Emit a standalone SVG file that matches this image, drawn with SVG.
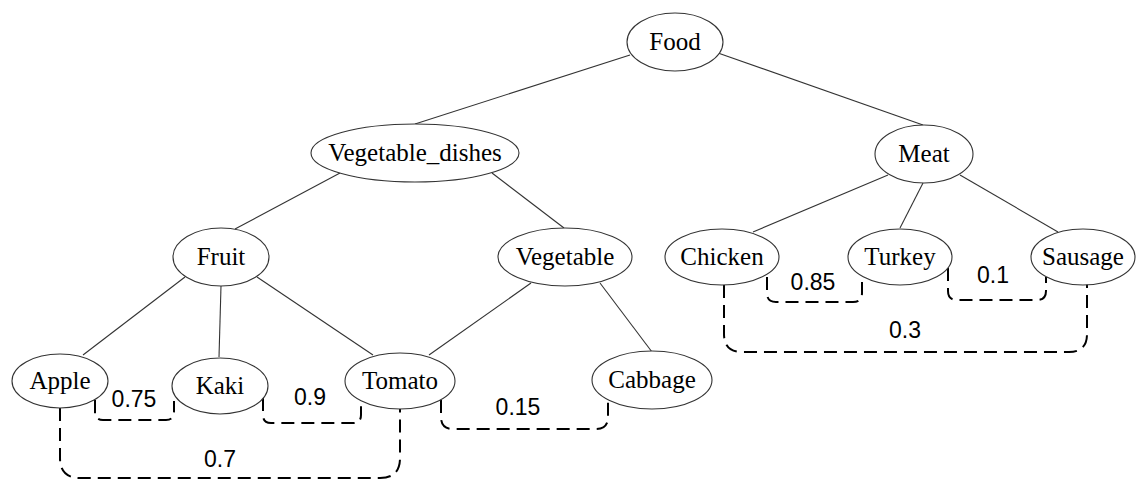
<svg xmlns="http://www.w3.org/2000/svg" width="1136" height="481" viewBox="0 0 1136 481">
<style>
.node ellipse{fill:#fff;stroke:#333;stroke-width:1.1}
.edges line{stroke:#333;stroke-width:1.1}
.sim path{fill:none;stroke:#000;stroke-width:2;stroke-dasharray:13 7}
</style>
<rect width="1136" height="481" fill="#fff"/>
<g class="edges">
<line x1="630" y1="55" x2="415" y2="124"/>
<line x1="718" y1="53" x2="923" y2="125"/>
<line x1="340" y1="173" x2="235" y2="229"/>
<line x1="492" y1="173" x2="564" y2="228"/>
<line x1="888" y1="175" x2="753" y2="232"/>
<line x1="923" y1="183" x2="900" y2="228"/>
<line x1="960" y1="175" x2="1058" y2="232"/>
<line x1="185" y1="277" x2="83" y2="355"/>
<line x1="221" y1="286" x2="219" y2="357"/>
<line x1="257" y1="277" x2="373" y2="355"/>
<line x1="531" y1="283" x2="429" y2="355"/>
<line x1="600" y1="283" x2="652" y2="352"/>
</g>
<g class="sim">
<path d="M95,400 V412 Q95,420 103,420 H166 Q174,420 174,412 V401"/>
<path d="M263,398 V415 Q263,423 271,423 H353 Q361,423 361,415 V400"/>
<path d="M60,408 V458 Q60,478 80,478 H380 Q400,478 400,458 V408"/>
<path d="M441,400 V417 Q441,429 453,429 H596 Q608,429 608,417 V400"/>
<path d="M767,277 V293 Q767,302 776,302 H853 Q862,302 862,293 V272"/>
<path d="M948,268 V291 Q948,300 957,300 H1037 Q1046,300 1046,291 V277"/>
<path d="M724,285 V334 Q724,352 742,352 H1069 Q1087,352 1087,334 V283"/>
<g font-family="'Liberation Sans', Arial, sans-serif" font-size="23" text-anchor="middle" fill="#000">
<text x="134" y="407">0.75</text>
<text x="310" y="405">0.9</text>
<text x="220" y="467">0.7</text>
<text x="518" y="415">0.15</text>
<text x="813" y="290">0.85</text>
<text x="993" y="283">0.1</text>
<text x="905" y="338">0.3</text>
</g>
</g>
<g font-family="'Liberation Serif', 'Times New Roman', 'DejaVu Serif', serif" font-size="25" text-anchor="middle" fill="#000">
<g id="food" class="node"><ellipse cx="675" cy="42" rx="48" ry="29"/><text x="675" y="50">Food</text></g>
<g id="vegetable_dishes" class="node"><ellipse cx="415" cy="153" rx="104" ry="29"/><text x="415" y="161">Vegetable_dishes</text></g>
<g id="meat" class="node"><ellipse cx="924" cy="154" rx="49" ry="29"/><text x="924" y="162">Meat</text></g>
<g id="fruit" class="node"><ellipse cx="221" cy="257" rx="48" ry="29"/><text x="221" y="265">Fruit</text></g>
<g id="vegetable" class="node"><ellipse cx="565" cy="257" rx="67" ry="29"/><text x="565" y="265">Vegetable</text></g>
<g id="chicken" class="node"><ellipse cx="722" cy="257" rx="57" ry="28"/><text x="722" y="265">Chicken</text></g>
<g id="turkey" class="node"><ellipse cx="900" cy="257" rx="52" ry="28"/><text x="900" y="265">Turkey</text></g>
<g id="sausage" class="node"><ellipse cx="1083" cy="257" rx="52" ry="28"/><text x="1083" y="265">Sausage</text></g>
<g id="apple" class="node"><ellipse cx="60" cy="381" rx="48" ry="27"/><text x="60" y="389">Apple</text></g>
<g id="kaki" class="node"><ellipse cx="220" cy="386" rx="48" ry="28"/><text x="220" y="394">Kaki</text></g>
<g id="tomato" class="node"><ellipse cx="400" cy="381" rx="55" ry="28"/><text x="400" y="389">Tomato</text></g>
<g id="cabbage" class="node"><ellipse cx="652" cy="380" rx="60" ry="29"/><text x="652" y="388">Cabbage</text></g>
</g>
</svg>
